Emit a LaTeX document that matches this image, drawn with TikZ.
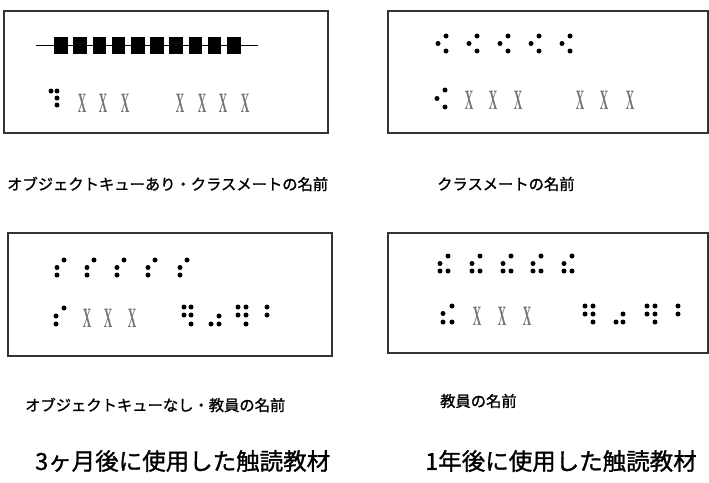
\documentclass[tikz,border=0pt]{standalone}
\usepackage{fontspec}
\newfontfamily\jp[FakeBold=1.2]{Noto Sans CJK JP}
\newfontfamily\xserif{Liberation Serif}
\begin{document}
\begin{tikzpicture}[x=1pt,y=-1pt,
  panel/.style={draw=black!80,line width=1.2pt},
  xmark/.style={inner sep=0pt,text=black!55,font=\xserif\bfseries\fontsize{28}{28}\selectfont,xscale=0.42},
  lbl/.style={inner sep=0pt,anchor=west,font=\jp\fontsize{15.3}{16}\selectfont},
  ttl/.style={inner sep=0pt,anchor=west,font=\jp\fontsize{23.5}{25}\selectfont},
  sq/.style={fill=black,minimum width=13.5pt,minimum height=17.5pt,inner sep=0pt}]
\useasboundingbox (0,0) rectangle (709,482);
\fill[white] (0,0) rectangle (709,482);
\newcommand\bd[2]{\fill (#1,#2) circle (2.5);}
% panels
\draw[panel] (4,11) rectangle (328,133);
\draw[panel] (388,11) rectangle (708,133);
\draw[panel] (8,233) rectangle (332,356);
\draw[panel] (388,233) rectangle (708,353);
% panel 1: object cue line
\coordinate (l1) at (36,45.5);
\coordinate (l2) at (258,45.5);
\draw[line width=1.5pt] (l1) -- (l2);
\foreach \i in {0,...,9} \node[sq] (s\i) at ({61+19.2*\i},45.5) {};
\bd{51}{91}\bd{57}{91}\bd{57}{98}\bd{57}{105}
\foreach \x [count=\k] in {82,103,125,180,202,223,245} \node[xmark] (a\k) at (\x,103) {X};
% panel 2
\foreach \x in {438,469,500,531,562} {\bd{\x+8}{36}\bd{\x}{43.5}\bd{\x+8}{51}}
\bd{445}{90}\bd{437}{98.5}\bd{445}{107}
\foreach \x [count=\k] in {469,493,518,580,604,630} \node[xmark] (b\k) at (\x,100) {X};
% panel 3
\foreach \x in {57,87,117,148,180} {\bd{\x+7}{260}\bd{\x}{267.5}\bd{\x}{275}}
\bd{64}{308}\bd{56}{316}\bd{56}{324}
\foreach \x [count=\k] in {87,108,132} \node[xmark] (c\k) at (\x,318) {X};
\bd{184}{307}\bd{191}{307}\bd{184}{315}\bd{191}{315}\bd{191}{324}
\bd{219}{316}\bd{211}{324}\bd{219}{324}
\bd{238}{307}\bd{246}{307}\bd{238}{315}\bd{246}{315}\bd{246}{324}
\bd{267}{307}\bd{267}{315}
% panel 4
\foreach \x in {440,472,503,533,564} {\bd{\x+8}{256}\bd{\x}{263.5}\bd{\x}{271}\bd{\x+8}{271}}
\bd{452}{306}\bd{443}{313.5}\bd{443}{322}\bd{452}{322}
\foreach \x [count=\k] in {477,502,527} \node[xmark] (d\k) at (\x,316) {X};
\bd{585}{306}\bd{593}{306}\bd{585}{314}\bd{593}{314}\bd{593}{322}
\bd{623}{314}\bd{616}{322}\bd{623}{322}
\bd{647}{306}\bd{655}{306}\bd{647}{314}\bd{655}{314}\bd{655}{322}
\bd{678}{306}\bd{678}{314}
% labels
\node[lbl] (t1) at (7,184) {オブジェクトキューあり・クラスメートの名前};
\node[lbl] (t2) at (437,184) {クラスメートの名前};
\node[lbl] (t3) at (25,405) {オブジェクトキューなし・教員の名前};
\node[lbl] (t4) at (440,401) {教員の名前};
\node[ttl] (h1) at (35,461) {3ヶ月後に使用した触読教材};
\node[ttl] (h2) at (425,461) {1年後に使用した触読教材};
\end{tikzpicture}
\end{document}
